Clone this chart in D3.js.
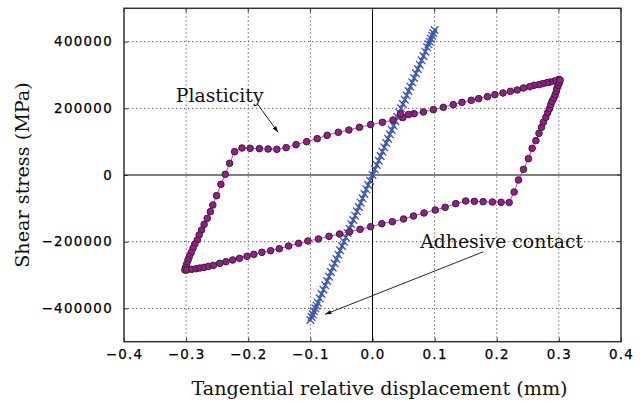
<!DOCTYPE html>
<html>
<head>
<meta charset="utf-8">
<script src="https://cdn.jsdelivr.net/npm/d3@7"></script>
<style>
  body { margin: 0; background: #fff; }
  svg { display: block; }
</style>
</head>
<body>
<div id="chart"></div>
<script>
// tick values
const xTicks = [-0.4, -0.3, -0.2, -0.1, 0, 0.1, 0.2, 0.3, 0.4];
const yTicks = [-400000, -200000, 0, 200000, 400000];

// hysteresis loop (plasticity), in drawing order
const loopX = [0.300, 0.293, 0.286, 0.281, 0.274, 0.268, 0.260, 0.253, 0.243, 0.233, 0.222, 0.210, 0.197, 0.185, 0.171, 0.159, 0.144, 0.130, 0.114, 0.098, 0.082, 0.067, 0.058, 0.049, 0.045, 0.033, 0.016, -0.003, -0.021, -0.038, -0.055, -0.073, -0.089, -0.106, -0.123, -0.139, -0.154, -0.168, -0.182, -0.197, -0.210, -0.222,
  -0.230, -0.237, -0.244, -0.251, -0.257, -0.261, -0.266, -0.271, -0.275, -0.279, -0.282, -0.286, -0.289, -0.292, -0.295, -0.297, -0.299, -0.301, -0.302,
  -0.299, -0.291, -0.284, -0.278, -0.271, -0.264, -0.256, -0.246, -0.236, -0.225, -0.214, -0.202, -0.191, -0.178, -0.164, -0.150, -0.135, -0.119, -0.104, -0.087, -0.070, -0.053, -0.037, -0.020, -0.003, 0.015, 0.032, 0.050, 0.066, 0.083, 0.101, 0.117, 0.134, 0.150, 0.164, 0.178, 0.193, 0.207, 0.220,
  0.228, 0.235, 0.243, 0.251, 0.257, 0.263, 0.268, 0.272, 0.275, 0.279, 0.282, 0.285, 0.287, 0.289, 0.292, 0.294, 0.296, 0.297, 0.299, 0.301, 0.302];
const loopY = [287000, 282000, 279000, 277000, 274000, 271000, 269000, 265000, 261000, 255000, 251000, 246000, 241000, 235000, 229000, 224000, 218000, 211000, 203000, 196000, 189000, 184000, 181500, 172500, 183000, 165000, 158000, 151000, 143000, 135000, 128000, 119000, 109000, 100000, 91000, 82000, 77000, 78000, 79000, 80000, 81000, 70000,
  35000, 2000, -28000, -62000, -90000, -110000, -130000, -148000, -165000, -180000, -195000, -207000, -220000, -233000, -245000, -255000, -267000, -277000, -285000,
  -285000, -283000, -281000, -279000, -277000, -274000, -271000, -265000, -260000, -255000, -250000, -244000, -238000, -232000, -227000, -221000, -213000, -205000, -198000, -192000, -184000, -177000, -170000, -163000, -155000, -146000, -140000, -132000, -123000, -114000, -105000, -97000, -86000, -78000, -79000, -80000, -81000, -82000, -82500,
  -51000, -15000, 17000, 49000, 80000, 103000, 125000, 143000, 158000, 173000, 187000, 199000, 211000, 221000, 231000, 241000, 251000, 260000, 269000, 277000, 285000];

// adhesive contact (elastic) path
const adhX = [-0.100, -0.098, -0.096, -0.094, -0.092, -0.090, -0.088, -0.085, -0.082, -0.079, -0.076, -0.073, -0.070, -0.067, -0.064, -0.061, -0.058, -0.055, -0.052, -0.049, -0.046, -0.043, -0.040, -0.037, -0.034, -0.031, -0.028, -0.025, -0.022, -0.019, -0.016, -0.013, -0.010, -0.007, -0.004, 0.000,
  0.004, 0.007, 0.010, 0.013, 0.016, 0.019, 0.022, 0.025, 0.028, 0.031, 0.034, 0.037, 0.040, 0.043, 0.046, 0.049, 0.052, 0.055, 0.058, 0.061, 0.064, 0.067, 0.070, 0.073, 0.076, 0.079, 0.082, 0.085, 0.088, 0.090, 0.092, 0.094, 0.096, 0.098, 0.100];
const adhY = [-435000, -426000, -418000, -409000, -400000, -392000, -383000, -370000, -357000, -344000, -331000, -318000, -305000, -291000, -278000, -265000, -252000, -239000, -226000, -213000, -200000, -187000, -174000, -161000, -148000, -135000, -122000, -109000, -96000, -83000, -70000, -57000, -43000, -30000, -17000, 0,
  17000, 30000, 43000, 57000, 70000, 83000, 96000, 109000, 122000, 135000, 148000, 161000, 174000, 187000, 200000, 213000, 226000, 239000, 252000, 265000, 278000, 291000, 305000, 318000, 331000, 344000, 357000, 370000, 383000, 392000, 400000, 409000, 418000, 426000, 435000];

const width = 640, height = 401;
const margin = {left: 124, right: 19, top: 8.3, bottom: 59.3};

const svg = d3.select("#chart").append("svg")
    .attr("width", width).attr("height", height);

const x = d3.scaleLinear().domain([-0.4, 0.4]).range([margin.left, width - margin.right]);
const y = d3.scaleLinear().domain([-500000, 500000]).range([height - margin.bottom, margin.top]);

// dotted grid
const grid = svg.append("g");
grid.selectAll("line.gx")
    .data(xTicks.filter(d => d !== 0 && Math.abs(d) < 0.4))
    .join("line")
    .attr("x1", d => x(d)).attr("x2", d => x(d))
    .attr("y1", y.range()[0]).attr("y2", y.range()[1])
    .attr("stroke", "#555").attr("stroke-width", 1).attr("stroke-dasharray", "1.3,2.7");
grid.selectAll("line.gy")
    .data(yTicks.filter(d => d !== 0))
    .join("line")
    .attr("y1", d => y(d)).attr("y2", d => y(d))
    .attr("x1", x.range()[0]).attr("x2", x.range()[1])
    .attr("stroke", "#555").attr("stroke-width", 1).attr("stroke-dasharray", "1.3,2.7");

// zero lines
svg.append("line")
    .attr("x1", x(0)).attr("x2", x(0)).attr("y1", y.range()[0]).attr("y2", y.range()[1])
    .attr("stroke", "#000").attr("stroke-width", 1);
svg.append("line")
    .attr("y1", y(0)).attr("y2", y(0)).attr("x1", x.range()[0]).attr("x2", x.range()[1])
    .attr("stroke", "#000").attr("stroke-width", 1);

// axes with labels
const tickFont = "'DejaVu Sans', sans-serif";
const xAxis = svg.append("g")
    .attr("transform", `translate(0,${y.range()[0]})`)
    .call(d3.axisBottom(x).tickValues(xTicks).tickFormat(d3.format(".1f")).tickSizeInner(-4).tickSizeOuter(0).tickPadding(8));
const yAxis = svg.append("g")
    .attr("transform", `translate(${x.range()[0]},0)`)
    .call(d3.axisLeft(y).tickValues(yTicks).tickFormat(d3.format("d")).tickSizeInner(-4).tickSizeOuter(0).tickPadding(11));
[xAxis, yAxis].forEach(a => {
    a.select(".domain").remove();
    a.selectAll(".tick line").attr("stroke", "#333");
    a.selectAll("text").attr("font-family", tickFont).attr("font-size", 13.4)
        .attr("letter-spacing", "1.3px").attr("fill", "#000")
        .attr("stroke", "#000").attr("stroke-width", 0.25);
});
// inner ticks on right and top
svg.append("g").selectAll("line").data(yTicks).join("line")
    .attr("x1", x.range()[1]).attr("x2", x.range()[1] - 4)
    .attr("y1", d => y(d)).attr("y2", d => y(d)).attr("stroke", "#333");
svg.append("g").selectAll("line").data(xTicks).join("line")
    .attr("y1", y.range()[1]).attr("y2", y.range()[1] + 4)
    .attr("x1", d => x(d)).attr("x2", d => x(d)).attr("stroke", "#333");

// frame
svg.append("rect")
    .attr("x", x.range()[0]).attr("y", y.range()[1])
    .attr("width", x.range()[1] - x.range()[0]).attr("height", y.range()[0] - y.range()[1])
    .attr("fill", "none").attr("stroke", "#333").attr("stroke-width", 1.5);

// adhesive contact: blue crosses
const adh = adhX.map((d, i) => ({x: d, y: adhY[i]}));
svg.append("path").datum(adh)
    .attr("fill", "none").attr("stroke", "#4c66c0").attr("stroke-width", 1.5)
    .attr("d", d3.line().x(d => x(d.x)).y(d => y(d.y)));
svg.append("g").selectAll("path").data(adh).join("path")
    .attr("transform", d => `translate(${x(d.x)},${y(d.y)})`)
    .attr("d", "M-3.8,-3.8L3.8,3.8M-3.8,3.8L3.8,-3.8")
    .attr("stroke", "#3a55b4").attr("stroke-width", 1.3).attr("fill", "none");

// plasticity loop: magenta line with dots
const loop = loopX.map((d, i) => ({x: d, y: loopY[i]}));
svg.append("path").datum(loop)
    .attr("fill", "none").attr("stroke", "#d03cc8").attr("stroke-width", 1)
    .attr("d", d3.line().x(d => x(d.x)).y(d => y(d.y)));
svg.append("g").selectAll("circle").data(loop).join("circle")
    .attr("cx", d => x(d.x)).attr("cy", d => y(d.y)).attr("r", 3.3)
    .attr("fill", "#a01690").attr("stroke", "#2a2a2a").attr("stroke-width", 1);

// annotations
const serif = "'DejaVu Serif', serif";
svg.append("defs").append("marker")
    .attr("id", "arrow").attr("viewBox", "0 0 10 10").attr("refX", 10).attr("refY", 5)
    .attr("markerWidth", 7).attr("markerHeight", 7).attr("orient", "auto-start-reverse")
    .append("path").attr("d", "M0,1.5L10,5L0,8.5z").attr("fill", "#111");

const notes = [
    {text: "Plasticity", tx: -0.3166, ty: 219000, ax1: -0.186, ay1: 215000, ax2: -0.152, ay2: 128000},
    {text: "Adhesive contact", tx: 0.0768, ty: -218000, ax1: 0.1787, ay1: -230000, ax2: -0.0762, ay2: -418000}
];
notes.forEach(n => {
    svg.append("line")
        .attr("x1", x(n.ax1)).attr("y1", y(n.ay1)).attr("x2", x(n.ax2)).attr("y2", y(n.ay2))
        .attr("stroke", "#111").attr("stroke-width", 0.9).attr("marker-end", "url(#arrow)");
    svg.append("text")
        .attr("x", x(n.tx)).attr("y", y(n.ty))
        .attr("font-family", serif).attr("font-size", 18.8).attr("fill", "#111")
        .text(n.text);
});

// axis titles
svg.append("text")
    .attr("x", (x.range()[0] + x.range()[1]) / 2 + 7).attr("y", 395)
    .attr("text-anchor", "middle").attr("font-family", serif).attr("font-size", 19.2).attr("fill", "#111")
    .text("Tangential relative displacement (mm)");
svg.append("text")
    .attr("transform", `translate(29,${y(0)}) rotate(-90)`)
    .attr("text-anchor", "middle").attr("font-family", serif).attr("font-size", 19.2).attr("fill", "#111")
    .text("Shear stress (MPa)");
</script>
</body>
</html>
